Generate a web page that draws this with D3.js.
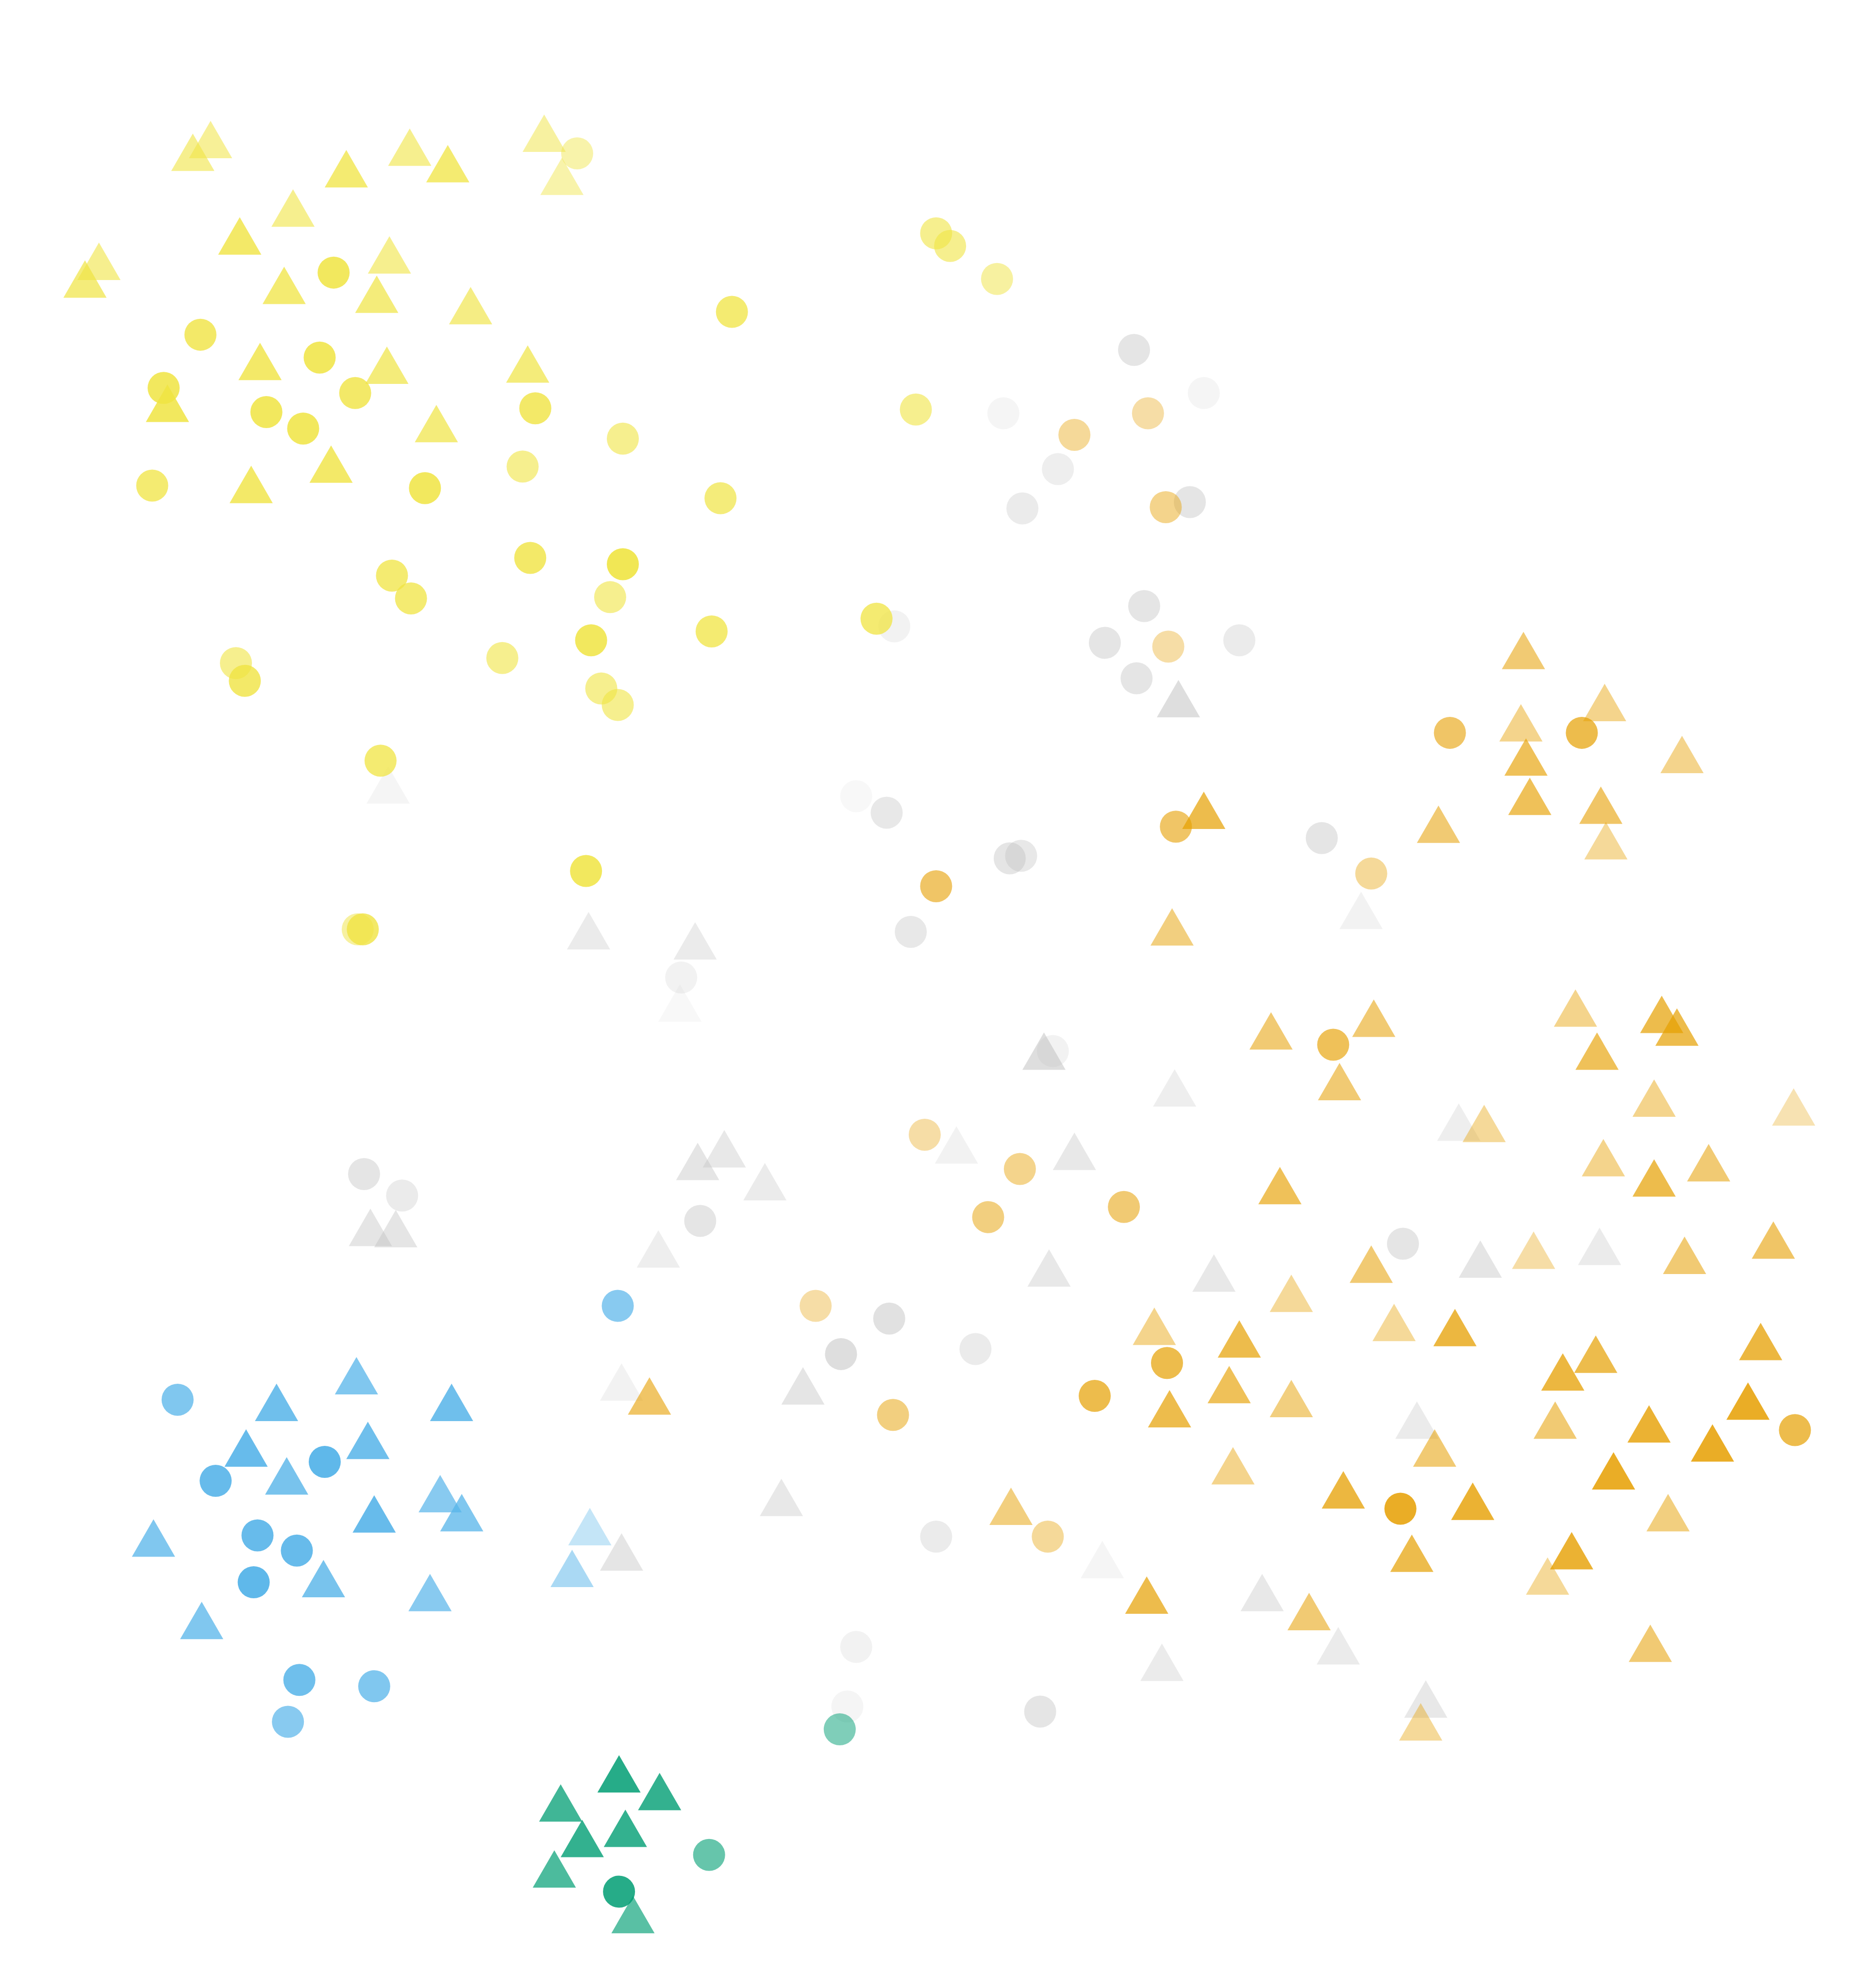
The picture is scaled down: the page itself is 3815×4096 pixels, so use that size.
<!DOCTYPE html>
<html><head><meta charset="utf-8">
<script src="https://cdn.jsdelivr.net/npm/d3@7"></script>
<style>html,body{margin:0;padding:0;background:#fff;}svg{display:block;}</style>
</head><body>
<script>
// Data: [x, y, shape, intensity]  (x,y in plot units; y grows downward)
const groupNames = ["gray", "yellow", "orange", "blue", "green"];
const groupColors = ["#BDBDBD", "#F0E442", "#E69F00", "#56B4E9", "#009E73"];
const shapeNames = ["c", "t"];

const yellow = [
  [152,125,"t",.6],[166,115,"t",.55],[273,138,"t",.75],[323,121,"t",.6],[353,134,"t",.75],
  [429,110,"t",.5],[455,121,"c",.45],[443,144,"t",.45],[231,169,"t",.6],[189,191,"t",.8],
  [78,211,"t",.6],[67,225,"t",.7],[307,206,"t",.6],[263,215,"c",.85],[224,230,"t",.75],
  [297,237,"t",.7],[371,246,"t",.65],[577,246,"c",.75],[158,264,"c",.8],[205,290,"t",.8],
  [252,282,"c",.85],[305,293,"t",.7],[416,292,"t",.7],[129,306,"c",.85],[132,323,"t",.85],
  [280,310,"c",.8],[210,325,"c",.85],[239,338,"c",.85],[422,322,"c",.8],[344,339,"t",.7],
  [491,346,"c",.6],[261,371,"t",.8],[412,368,"c",.6],[120,383,"c",.75],[198,387,"t",.8],
  [335,385,"c",.85],[568,393,"c",.7],[418,440,"c",.8],[491,445,"c",.9],[309,454,"c",.75],
  [324,472,"c",.75],[481,471,"c",.6],[466,505,"c",.85],[561,498,"c",.75],[396,519,"c",.6],
  [186,523,"c",.6],[193,537,"c",.8],[474,543,"c",.6],[487,556,"c",.6],[300,600,"c",.75],
  [462,687,"c",.85],[282,733,"c",.5],[286,733,"c",.8],
  [738,184,"c",.6],[749,194,"c",.6],[786,220,"c",.5],[722,323,"c",.6],[691,488,"c",.75]
];

const gray = [
  [306,624,"t",.15],[464,739,"t",.3],[548,747,"t",.3],[537,771,"c",.2],[536,796,"t",.1],
  [705,494,"c",.2],[894,276,"c",.4],[949,310,"c",.15],[791,326,"c",.15],[834,370,"c",.25],
  [806,401,"c",.3],[938,396,"c",.4],[902,478,"c",.4],[871,507,"c",.4],[977,505,"c",.3],
  [896,535,"c",.4],[929,556,"t",.5],[1042,661,"c",.4],[1073,723,"t",.2],
  [675,628,"c",.1],[699,641,"c",.35],[796,677,"c",.4],[805,675,"c",.35],[718,735,"c",.35],
  [823,834,"t",.5],[830,829,"c",.2],[926,863,"t",.25],[1150,890,"t",.25],[754,908,"t",.2],
  [847,913,"t",.35],[1261,988,"t",.3],[1167,998,"t",.4],[1106,981,"c",.4],[957,1009,"t",.35],
  [827,1005,"t",.35],[287,926,"c",.4],[317,943,"c",.3],[292,973,"t",.4],[312,974,"t",.4],
  [550,921,"t",.4],[571,911,"t",.35],[603,937,"t",.3],[552,963,"c",.4],[519,990,"t",.25],
  [701,1040,"c",.45],[663,1068,"c",.5],[769,1064,"c",.3],[633,1098,"t",.4],[490,1095,"t",.2],
  [1117,1125,"t",.3],[738,1212,"c",.3],[869,1235,"t",.15],[995,1261,"t",.35],[1055,1303,"t",.3],
  [916,1316,"t",.3],[675,1299,"c",.2],[668,1346,"c",.15],[820,1350,"c",.4],[1124,1345,"t",.35],
  [616,1186,"t",.35],[490,1229,"t",.4]
];

const orange = [
  [905,326,"c",.35],[847,343,"c",.4],[919,400,"c",.45],[921,510,"c",.35],
  [1201,518,"t",.55],[1199,575,"t",.45],[1265,559,"t",.45],[1143,578,"c",.6],[1247,578,"c",.7],
  [1203,602,"t",.65],[1326,600,"t",.45],[1206,633,"t",.65],[1262,640,"t",.6],[1266,668,"t",.4],
  [1134,655,"t",.55],[927,652,"c",.6],[949,644,"t",.7],[1081,689,"c",.4],[924,736,"t",.5],
  [738,699,"c",.6],
  [1002,818,"t",.55],[1083,808,"t",.55],[1051,824,"c",.65],[1056,858,"t",.55],
  [1242,800,"t",.45],[1310,805,"t",.7],[1322,815,"t",.7],[1259,834,"t",.65],[1304,871,"t",.45],
  [1414,878,"t",.3],[1170,891,"t",.4],[729,895,"c",.35],[804,922,"c",.45],[779,960,"c",.5],
  [886,952,"c",.55],[1009,940,"t",.65],[1264,918,"t",.45],[1304,934,"t",.7],[1347,922,"t",.55],
  [1398,983,"t",.6],[1328,995,"t",.55],[1209,991,"t",.35],[1081,1002,"t",.55],[1018,1025,"t",.4],
  [643,1030,"c",.35],[512,1106,"t",.6],[704,1116,"c",.5],
  [910,1051,"t",.45],[977,1061,"t",.7],[920,1075,"c",.7],[969,1097,"t",.65],[922,1116,"t",.7],
  [863,1101,"c",.7],[1018,1108,"t",.5],[1099,1048,"t",.4],[1147,1052,"t",.75],[1232,1087,"t",.75],
  [1258,1073,"t",.7],[1226,1125,"t",.55],[1131,1147,"t",.55],[1300,1128,"t",.8],[1350,1143,"t",.85],
  [1378,1110,"t",.85],[1388,1063,"t",.75],[1415,1128,"c",.7],[1272,1165,"t",.85],[1315,1198,"t",.5],
  [972,1161,"t",.45],[1059,1180,"t",.75],[1161,1189,"t",.8],[1104,1190,"c",.85],[1113,1230,"t",.7],
  [1239,1228,"t",.8],[1220,1248,"t",.4],[797,1193,"t",.5],[826,1212,"c",.4],[904,1263,"t",.7],
  [1032,1276,"t",.55],[1301,1301,"t",.55],[1120,1363,"t",.4]
];

const blue = [
  [487,1030,"c",.7],
  [140,1104,"c",.75],[218,1111,"t",.85],[281,1090,"t",.75],[356,1111,"t",.85],[194,1147,"t",.9],
  [290,1141,"t",.85],[256,1153,"c",.95],[170,1168,"c",.9],[226,1169,"t",.8],[347,1183,"t",.7],
  [364,1198,"t",.75],[295,1199,"t",.9],[121,1218,"t",.75],[203,1211,"c",.9],[234,1223,"c",.9],
  [200,1248,"c",.95],[255,1250,"t",.8],[339,1261,"t",.7],[159,1283,"t",.75],[236,1325,"c",.85],
  [295,1330,"c",.75],[227,1358,"c",.7],[465,1209,"t",.35],[451,1242,"t",.5]
];

const green = [
  [662,1364,"c",.5],
  [488,1404,"t",.85],[520,1418,"t",.8],[442,1427,"t",.75],[493,1447,"t",.8],[459,1455,"t",.8],
  [437,1479,"t",.7],[488,1492,"c",.85],[499,1515,"t",.65],[559,1463,"c",.6]
];

const seriesData = [gray, yellow, orange, blue, green];

const W = 3815, H = 4096;
const x = d3.scaleLinear().domain([0, 1460]).range([0, W]);
const y = d3.scaleLinear().domain([0, 1568]).range([0, H]);
const color = d3.scaleOrdinal().domain(groupNames).range(groupColors);
const opacity = d3.scaleLinear().domain([0, 1]).range([0, 1]);
const symbolType = d3.scaleOrdinal().domain(shapeNames).range([d3.symbolCircle, d3.symbolTriangle]);
const symbolSize = d3.scaleOrdinal().domain(shapeNames).range([Math.PI * 33 * 33, 3430]);

const svg = d3.select("body").append("svg").attr("width", W).attr("height", H);

const points = [];
seriesData.forEach((arr, gi) => arr.forEach(p => points.push({g: groupNames[gi], x: p[0], y: p[1], s: p[2], v: p[3]})));

svg.append("g").selectAll("path").data(points).join("path")
  .attr("transform", d => `translate(${x(d.x)},${y(d.y)})`)
  .attr("d", d => d3.symbol().type(symbolType(d.s)).size(symbolSize(d.s))())
  .attr("fill", d => color(d.g))
  .attr("fill-opacity", d => opacity(d.v));
</script>
</body></html>
